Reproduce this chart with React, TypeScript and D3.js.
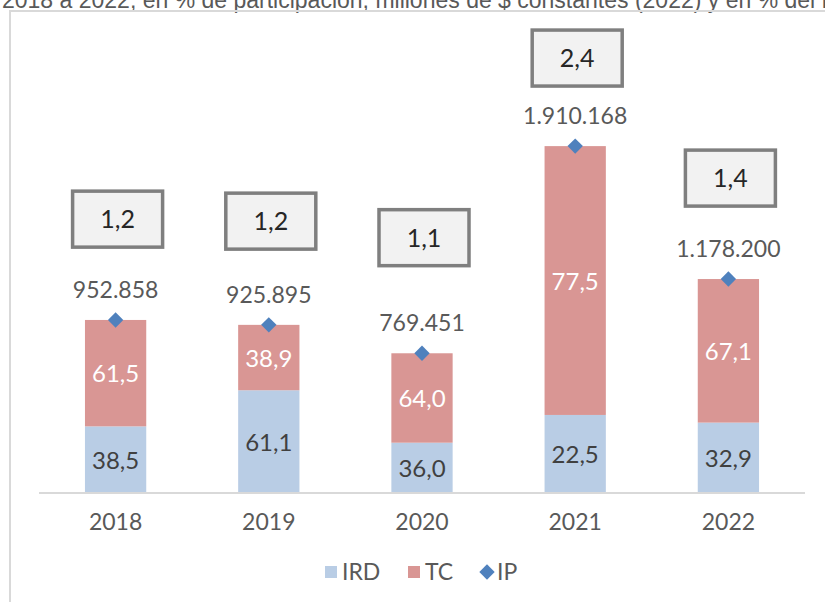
import React, { useEffect, useRef } from "react";
import * as d3 from "d3";

// data
const years = ["2018", "2019", "2020", "2021", "2022"];
const ird = [38.5, 61.1, 36.0, 22.5, 32.9]; // % participación
const tc = [61.5, 38.9, 64.0, 77.5, 67.1]; // % participación
const ip = [952858, 925895, 769451, 1910168, 1178200]; // millones de $ constantes (2022)
const pctPib = ["1,2", "1,2", "1,1", "2,4", "1,4"]; // % del PIB
const pctPibBoxAt = [1508000, 1497000, 1406000, 2395000, 1734000]; // where the boxes sit, in y units

const fmtNum = (v: number) => d3.format(",")(v).replace(/,/g, ".");
const fmtPct = (v: number) => v.toFixed(1).replace(".", ",");

function App() {
  const ref = useRef<SVGSVGElement>(null);

  useEffect(() => {
    const svg = d3.select(ref.current);
    svg.selectAll("*").remove();

    const width = 825;
    const height = 602;
    const font = "Lato, 'Noto Sans', sans-serif";

    // frame of the chart area and the cut title above it (cut as in the source)
    svg.append("text")
      .attr("x", 2)
      .attr("y", 8)
      .attr("font-family", "'Liberation Sans', Arial, sans-serif")
      .attr("font-size", 23)
      .attr("fill", "#595959")
      .text("2018 a 2022, en % de participación, millones de $ constantes (2022) y en % del PIB");

    svg.append("path")
      .attr("d", `M10,${height} V11 H${width}`)
      .attr("fill", "none")
      .attr("stroke", "#d9d9d9")
      .attr("stroke-width", 2);

    const xscale = d3.scaleBand().domain(years).range([39, 805]).paddingInner(0.6).paddingOuter(0.3);
    const yscale = d3.scaleLinear().domain([0, 2500000]).range([493, 39]);

    const rows = years.map((y, i) => ({ year: y, ird: ird[i], tc: tc[i], ip: ip[i], pib: pctPib[i], boxAt: pctPibBoxAt[i] }));
    const bw = xscale.bandwidth();
    const cx = (d: any) => (xscale(d.year) as number) + bw / 2;
    const splitY = (d: any) => yscale(d.ip * d.ird / 100);

    const g = svg.append("g");

    // IRD segment (bottom)
    g.selectAll("rect.ird").data(rows).join("rect")
      .attr("class", "ird")
      .attr("x", (d) => xscale(d.year) as number)
      .attr("width", bw)
      .attr("y", (d) => splitY(d))
      .attr("height", (d) => yscale(0) - splitY(d))
      .attr("fill", "#b9cde5");

    // TC segment (top)
    g.selectAll("rect.tc").data(rows).join("rect")
      .attr("class", "tc")
      .attr("x", (d) => xscale(d.year) as number)
      .attr("width", bw)
      .attr("y", (d) => yscale(d.ip))
      .attr("height", (d) => splitY(d) - yscale(d.ip))
      .attr("fill", "#d99694");

    // axis line
    svg.append("line")
      .attr("x1", 39).attr("x2", 805)
      .attr("y1", 493).attr("y2", 493)
      .attr("stroke", "#d9d9d9")
      .attr("stroke-width", 2);

    // segment labels
    g.selectAll("text.irdlab").data(rows).join("text")
      .attr("x", cx)
      .attr("y", (d) => (splitY(d) + yscale(0)) / 2 + 9)
      .attr("text-anchor", "middle")
      .attr("font-family", font)
      .attr("font-size", 24)
      .attr("fill", "#404040")
      .text((d) => fmtPct(d.ird));

    g.selectAll("text.tclab").data(rows).join("text")
      .attr("x", cx)
      .attr("y", (d) => (splitY(d) + yscale(d.ip)) / 2 + 9)
      .attr("text-anchor", "middle")
      .attr("font-family", font)
      .attr("font-size", 24)
      .attr("fill", "#ffffff")
      .text((d) => fmtPct(d.tc));

    // IP markers
    const diamond = d3.symbol().type(d3.symbolDiamond2).size(150);
    g.selectAll("path.ip").data(rows).join("path")
      .attr("class", "ip")
      .attr("d", diamond)
      .attr("transform", (d) => `translate(${cx(d)},${yscale(d.ip)})`)
      .attr("fill", "#4f81bd");

    g.selectAll("text.iplab").data(rows).join("text")
      .attr("x", cx)
      .attr("y", (d) => yscale(d.ip) - 22)
      .attr("text-anchor", "middle")
      .attr("font-family", font)
      .attr("font-size", 23)
      .attr("fill", "#595959")
      .text((d) => fmtNum(d.ip));

    // % del PIB boxes
    const box = g.selectAll("g.box").data(rows).join("g")
      .attr("class", "box")
      .attr("transform", (d) => `translate(${cx(d) + 2},${yscale(d.boxAt)})`);
    box.append("rect")
      .attr("x", -45).attr("y", -28)
      .attr("width", 90).attr("height", 56)
      .attr("fill", "#f2f2f2")
      .attr("stroke", "#7f7f7f")
      .attr("stroke-width", 3.5);
    box.append("text")
      .attr("y", 9)
      .attr("text-anchor", "middle")
      .attr("font-family", font)
      .attr("font-size", 25)
      .attr("fill", "#262626")
      .text((d) => d.pib);

    // year labels
    g.selectAll("text.year").data(rows).join("text")
      .attr("x", cx)
      .attr("y", 530)
      .attr("text-anchor", "middle")
      .attr("font-family", font)
      .attr("font-size", 23)
      .attr("fill", "#595959")
      .text((d) => d.year);

    // legend
    const legend = svg.append("g").attr("font-family", font).attr("font-size", 23).attr("fill", "#595959");
    legend.append("rect").attr("x", 325).attr("y", 566).attr("width", 12).attr("height", 12).attr("fill", "#b9cde5");
    legend.append("text").attr("x", 342).attr("y", 580).text("IRD");
    legend.append("rect").attr("x", 408).attr("y", 566).attr("width", 12).attr("height", 12).attr("fill", "#d99694");
    legend.append("text").attr("x", 425).attr("y", 580).text("TC");
    legend.append("path")
      .attr("d", d3.symbol().type(d3.symbolDiamond2).size(150)())
      .attr("transform", "translate(487,572)")
      .attr("fill", "#4f81bd");
    legend.append("text").attr("x", 497).attr("y", 580).text("IP");
  }, []);

  return (
    <svg
      ref={ref}
      width={825}
      height={602}
      style={{ position: "absolute", left: 0, top: 0, background: "#ffffff" }}
    />
  );
}

export default App;
